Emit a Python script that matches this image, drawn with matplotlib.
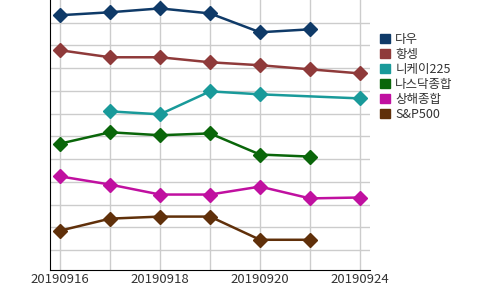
import matplotlib.pyplot as plt
from matplotlib.patches import Patch
import numpy as np

plt.rcParams['font.family'] = ['Noto Sans CJK KR', 'DejaVu Sans']

# categories (trading days)
dates = ["20190916", "20190917", "20190918", "20190919", "20190920", "20190923", "20190924"]
names = ["다우", "항셍", "니케이225", "나스닥종합", "상해종합", "S&P500"]
colors = ["#0f3a68", "#8f3a3a", "#199a9a", "#0a660a", "#c010a0", "#60300a"]

nan = np.nan
dow = [11.33, 11.46, 11.63, 11.41, 10.58, 10.71, nan]
hangseng = [9.79, 9.48, 9.48, 9.26, 9.13, 8.95, 8.77]
nikkei = [nan, 7.1, 6.97, 7.98, 7.85, nan, 7.67]
nasdaq = [5.68, 6.18, 6.05, 6.13, 5.2, 5.11, nan]
shanghai = [4.24, 3.88, 3.44, 3.44, 3.79, 3.27, 3.31]
sp500 = [1.85, 2.38, 2.47, 2.47, 1.45, 1.45, nan]
series = [dow, hangseng, nikkei, nasdaq, shanghai, sp500]

fig = plt.figure(figsize=(5, 2.9), dpi=100)
ax = fig.add_axes([50 / 500, 20 / 290, 320 / 500, 270 / 290])

x = np.arange(len(dates))
for vals, c in zip(series, colors):
    v = np.array(vals)
    m = ~np.isnan(v)
    ax.plot(x[m], v[m], color=c, lw=1.8, marker="D", ms=7, zorder=3)

ax.set_xlim(-0.2, 6.2)
ax.set_ylim(0.12, 12.0)
ax.set_xticks(x)
ax.set_xticklabels([d if i % 2 == 0 else "" for i, d in enumerate(dates)],
                   fontsize=9.5, color="#333333")
ax.set_yticks(np.arange(1, 12))
ax.set_yticklabels([])
ax.tick_params(length=0, pad=2)
ax.grid(True, color="#cccccc", lw=1)
ax.set_axisbelow(True)
for s in ["top", "right"]:
    ax.spines[s].set_visible(False)
ax.spines["left"].set_color("black")
ax.spines["bottom"].set_color("black")

handles = [Patch(facecolor=c, edgecolor=c) for c in colors]
fig.legend(handles, names, loc="upper left", bbox_to_anchor=(374 / 500, 1 - 27 / 290),
           frameon=False, fontsize=9, handlelength=0.75, handleheight=0.75,
           handletextpad=0.45, labelspacing=0.15, labelcolor="#333333", borderpad=0)

fig.savefig("out.png", dpi=100)
